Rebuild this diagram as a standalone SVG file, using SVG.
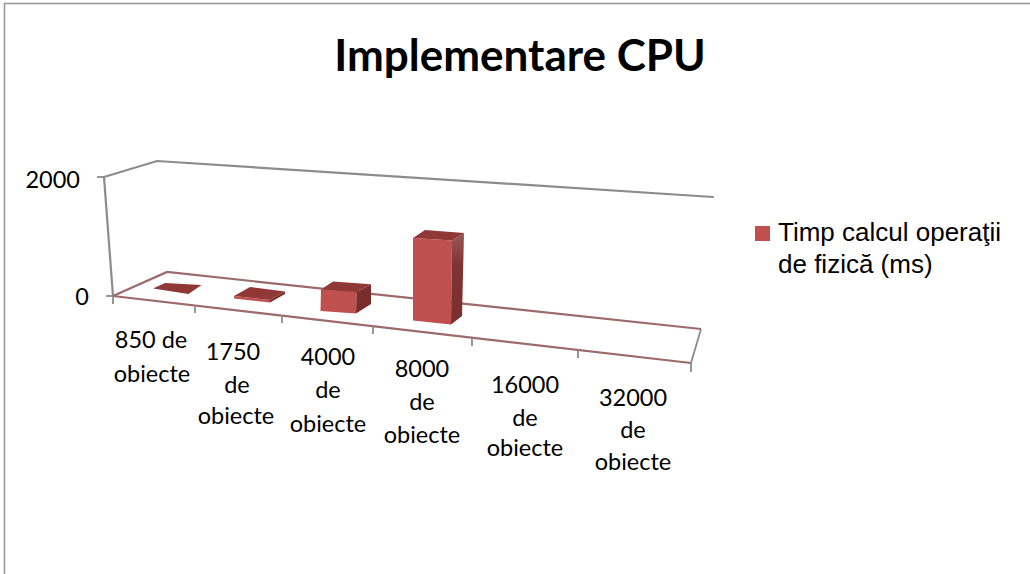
<svg xmlns="http://www.w3.org/2000/svg" width="1030" height="574" viewBox="0 0 1030 574">
  <style>
    .wall { fill: none; stroke: #8c8c8c; stroke-width: 2.2; stroke-linecap: round; }
    .floor { fill: none; stroke: #9c6a6a; stroke-width: 2.2; }
    .tick { fill: none; stroke: #8c8c8c; stroke-width: 1.8; }
    .front { fill: #c0504d; }
    .top { fill: #8f3836; }
    .side { fill: #7a2e2c; }
    .lbl { font-family: Lato, "Liberation Sans", sans-serif; font-size: 23.5px; fill: #000; text-anchor: middle; }
    .ax { font-family: Lato, "Liberation Sans", sans-serif; font-size: 23.5px; fill: #000; text-anchor: end; }
    .title { font-family: Lato, "Liberation Sans", sans-serif; font-size: 44px; font-weight: bold; fill: #000; text-anchor: middle; }
    .leg { font-family: "Liberation Sans", Arial, sans-serif; font-size: 26px; fill: #000; }
  </style>
  <defs>
    <linearGradient id="sideShade" x1="0" y1="0" x2="0" y2="1">
      <stop offset="0" stop-color="#9c5654"/>
      <stop offset="0.35" stop-color="#7e3432"/>
      <stop offset="1" stop-color="#7a2e2c"/>
    </linearGradient>
  </defs>

  <rect width="1030" height="574" fill="#ffffff"/>
  <!-- chart area frame -->
  <rect x="4.5" y="3.5" width="1040" height="600" fill="none" stroke="#999" stroke-width="1.6"/>

  <text class="title" x="520" y="71">Implementare CPU</text>

  <!-- walls and floor -->
  <g id="axes">
    <polyline class="wall" points="104,177 157,161 713,197"/>
    <line class="wall" x1="104" y1="177" x2="113" y2="296"/>
    <line class="tick" x1="97" y1="177" x2="104" y2="177"/>
    <line class="tick" x1="106" y1="296" x2="113" y2="296"/>
    <polyline class="floor" points="113,296 167,272 701,329"/>
    <line class="floor" x1="113" y1="296" x2="691" y2="363"/>
    <line class="tick" x1="701" y1="329" x2="691" y2="363"/>
    <g class="tick">
      <line x1="113" y1="296" x2="113" y2="304"/>
      <line x1="195" y1="305" x2="195" y2="313"/>
      <line x1="282" y1="315" x2="282" y2="323"/>
      <line x1="373" y1="326" x2="373" y2="334"/>
      <line x1="472" y1="338" x2="472" y2="346"/>
      <line x1="578" y1="350" x2="578" y2="358"/>
      <line x1="691" y1="363" x2="691" y2="372"/>
    </g>
    <text class="ax" x="80" y="188">2000</text>
    <text class="ax" x="89" y="305">0</text>
  </g>

  <!-- bars -->
  <g id="bar-850">
    <polygon class="top" points="153,288.5 165,283 201.5,285 188.5,294"/>
  </g>
  <g id="bar-1750">
    <polygon class="front" points="234,296 270,300 270,302.5 234,298.5"/>
    <polygon class="side" points="270,300 285,291.5 285,294 270,302.5"/>
    <polygon class="top" points="234,296 250,287 285,291.5 270,300"/>
  </g>
  <g id="bar-4000">
    <polygon class="front" points="321,289.5 356.5,292 356,313.5 320.5,311"/>
    <polygon class="side" points="356.5,292 371,284.3 371,304 356,313.5"/>
    <polygon class="top" points="321,289.5 333,281.5 371,284.3 356.5,292"/>
  </g>
  <g id="bar-8000">
    <polygon class="front" points="413,238 452,240.5 451,324.5 413,320.5"/>
    <polygon fill="url(#sideShade)" points="452,240.5 464,233 462,316 451,324.5"/>
    <polygon class="top" points="413,238 425,230 464,233 452,240.5"/>
  </g>

  <!-- category labels -->
  <g id="categories">
    <text class="lbl" x="151" y="348">850 de</text>
    <text class="lbl" x="152" y="382">obiecte</text>

    <text class="lbl" x="233" y="360">1750</text>
    <text class="lbl" x="237" y="393">de</text>
    <text class="lbl" x="236" y="424">obiecte</text>

    <text class="lbl" x="328" y="365">4000</text>
    <text class="lbl" x="328" y="398">de</text>
    <text class="lbl" x="328" y="432">obiecte</text>

    <text class="lbl" x="422" y="377">8000</text>
    <text class="lbl" x="422" y="410">de</text>
    <text class="lbl" x="422" y="443">obiecte</text>

    <text class="lbl" x="525" y="393">16000</text>
    <text class="lbl" x="525" y="426">de</text>
    <text class="lbl" x="525" y="456">obiecte</text>

    <text class="lbl" x="633" y="406">32000</text>
    <text class="lbl" x="633" y="438">de</text>
    <text class="lbl" x="633" y="470">obiecte</text>
  </g>

  <!-- legend -->
  <g id="legend">
    <rect x="755" y="226" width="15" height="15" fill="#c0504d"/>
    <text class="leg" x="778" y="241">Timp calcul operaţii</text>
    <text class="leg" x="778" y="273">de fizică (ms)</text>
  </g>
</svg>
